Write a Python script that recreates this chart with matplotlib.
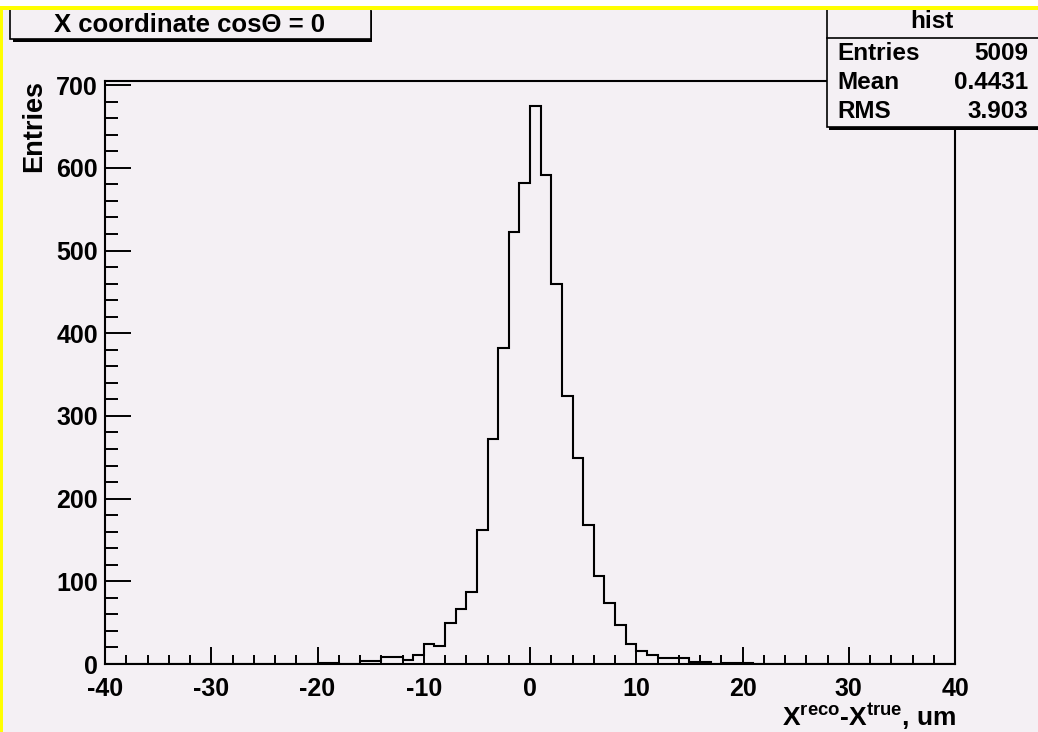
import numpy as np
import matplotlib
matplotlib.use('Agg')
import matplotlib.pyplot as plt
from matplotlib.patches import Rectangle

plt.rcParams['font.family'] = ['Liberation Sans', 'DejaVu Sans']
plt.rcParams['font.weight'] = 'bold'
plt.rcParams['axes.unicode_minus'] = False
plt.rcParams['mathtext.fontset'] = 'custom'
plt.rcParams['mathtext.rm'] = 'Liberation Sans:bold'
plt.rcParams['mathtext.it'] = 'Liberation Sans:bold'
plt.rcParams['mathtext.bf'] = 'Liberation Sans:bold'

# residual histogram, 1 um bins from -40 to 40
bin_edges = np.arange(-40, 41, 1)
counts_left_tail = [0] * 20                                   # -40 .. -21
counts_core = [1, 1, 0, 0, 4, 4, 8, 8, 5, 11,                 # -20 .. -11
               24, 22, 50, 67, 87, 162, 272, 382, 522, 582,   # -10 .. -1
               675, 591, 459, 324, 249, 168, 106, 74, 47, 24, # 0 .. 9
               16, 11, 7, 7, 7, 2, 2, 0, 1, 1,                # 10 .. 19
               1]                                             # 20
counts_right_tail = [0] * 19                                  # 21 .. 39
counts = np.array(counts_left_tail + counts_core + counts_right_tail)

stat_names = ['Entries', 'Mean', 'RMS']
stat_values = ['5009', '0.4431', '3.903']

title_text = u'X coordinate cos\u0398 = 0'
hist_name = 'hist'

bg = '#f4f0f4'
W, H = 1038, 732

fig = plt.figure(figsize=(W / 100, H / 100), dpi=100, facecolor=bg)

# main frame in pixel units
left, right, top, bottom = 105, 955, 81, 664
ax = fig.add_axes([left / W, 1 - bottom / H, (right - left) / W, (bottom - top) / H])
ax.set_facecolor(bg)
ax.stairs(counts, bin_edges, color='black', linewidth=1.5)
ax.set_xlim(-40, 40)
ax.set_ylim(0, 705)
ax.set_xticks(np.arange(-40, 41, 10))
ax.set_xticks(np.arange(-40, 41, 2), minor=True)
ax.set_yticks(np.arange(0, 701, 100))
ax.set_yticks(np.arange(0, 701, 20), minor=True)
for s in ax.spines.values():
    s.set_linewidth(1.5)
ax.tick_params(axis='x', which='major', direction='in', length=12.5, width=1.4,
               labelsize=18, pad=9.5)
ax.tick_params(axis='x', which='minor', direction='in', length=6.5, width=1.4)
ax.tick_params(axis='y', which='major', direction='in', length=19, width=1.4,
               labelsize=18, pad=5)
ax.tick_params(axis='y', which='minor', direction='in', length=9.5, width=1.4)
for lab in ax.get_xticklabels() + ax.get_yticklabels():
    lab.set_fontweight('bold')

# overlay in pixel coordinates for title, stats box, axis titles
ov = fig.add_axes([0, 0, 1, 1], zorder=10)
ov.set_xlim(0, W)
ov.set_ylim(H, 0)
ov.axis('off')
ov.patch.set_visible(False)

ov.text(34, 80, 'Entries', rotation=90, ha='center', va='top', fontsize=19.5,
        fontweight='bold')
ov.text(956, 725, r'X$^{\mathrm{reco}}$-X$^{\mathrm{true}}$, um', ha='right',
        va='baseline', fontsize=19, fontweight='bold')

# title box with shadow
ov.add_patch(Rectangle((13, 11), 359, 31, facecolor='black', edgecolor='none'))
ov.add_patch(Rectangle((10, 8), 361, 31, facecolor=bg, edgecolor='black', linewidth=1.2))
ov.text(189, 31.5, title_text, ha='center', va='baseline', fontsize=18.5,
        fontweight='bold')

# stats box with shadow
ov.add_patch(Rectangle((829, 11), 220, 119, facecolor='black', edgecolor='none'))
ov.add_patch(Rectangle((826.5, 8), 220, 118.5, facecolor=bg, edgecolor='black',
                       linewidth=1.2))
ov.plot([826.5, W], [37.5, 37.5], color='black', linewidth=1.2)
ov.text(932, 28.5, hist_name, ha='center', va='baseline', fontsize=17.5,
        fontweight='bold')
for i, (n, v) in enumerate(zip(stat_names, stat_values)):
    yb = 59.5 + 29.5 * i
    ov.text(837, yb, n, ha='left', va='baseline', fontsize=17.5, fontweight='bold')
    ov.text(1028, yb, v, ha='right', va='baseline', fontsize=17.5, fontweight='bold')

# canvas border
ov.add_patch(Rectangle((0, 0), W, 6, facecolor='white', edgecolor='none'))
ov.add_patch(Rectangle((0, 6), W, 4, facecolor='#ffff00', edgecolor='none'))
ov.add_patch(Rectangle((0, 6), 3, H - 6, facecolor='#ffff00', edgecolor='none'))

fig.savefig('out.png', dpi=100, facecolor=bg)
plt.close(fig)
